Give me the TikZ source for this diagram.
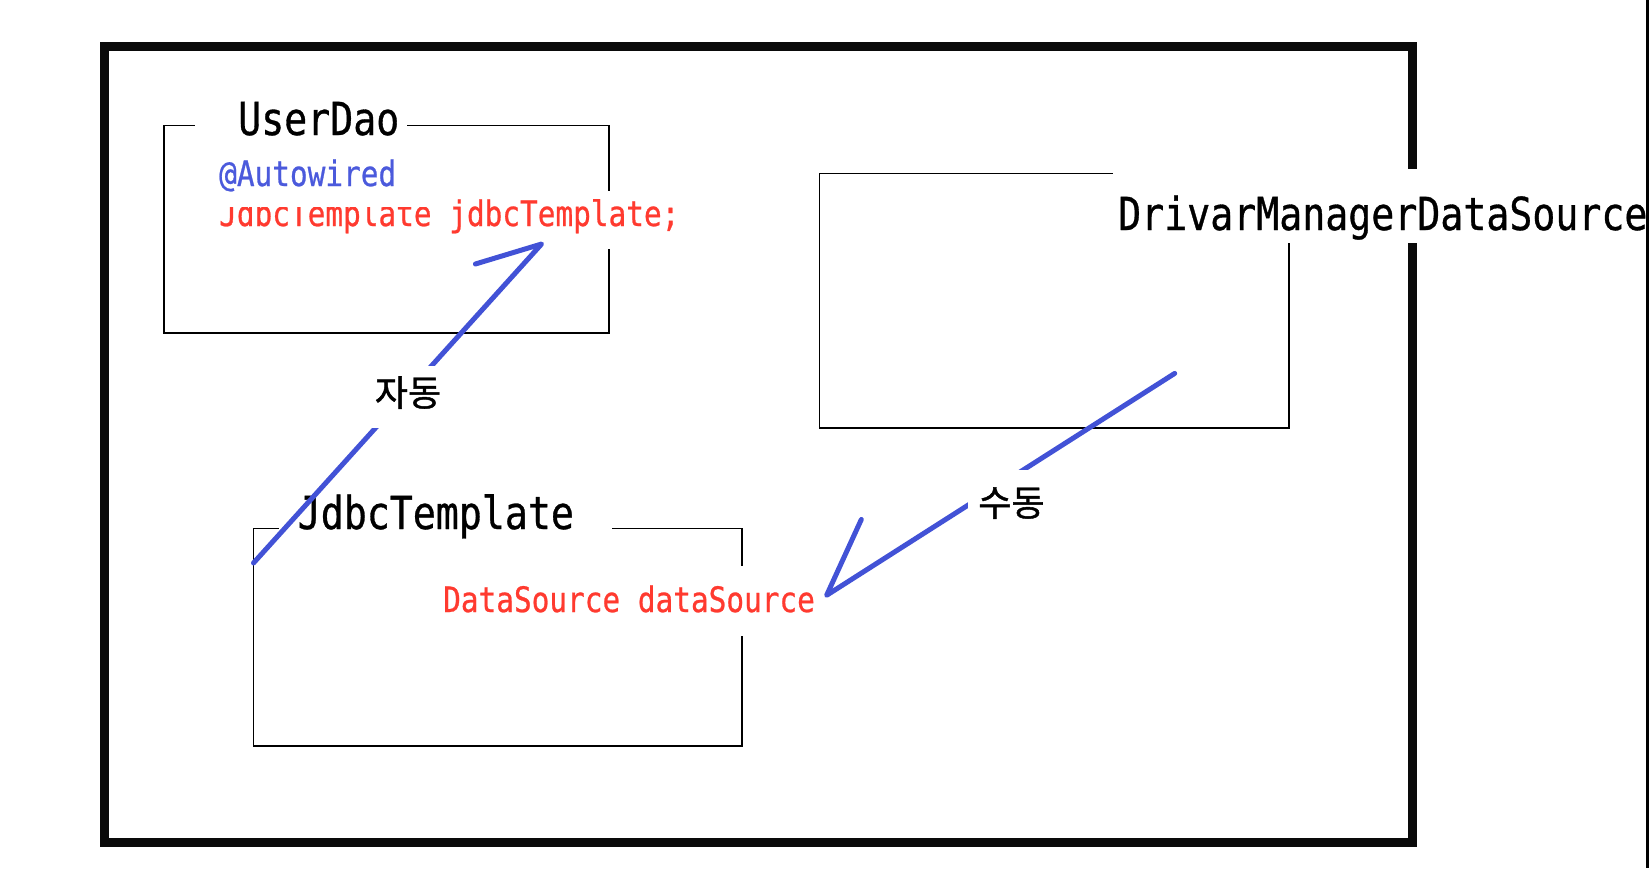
\documentclass[tikz,border=0pt]{standalone}
\usepackage{fontspec}
\newfontfamily\codefont[FakeStretch=0.84,FakeBold=0.7]{DejaVu Sans Mono}
\newfontfamily\krfont[FakeBold=1.2]{Noto Sans CJK KR}
\definecolor{codered}{RGB}{255,58,47}
\definecolor{autoblue}{RGB}{75,90,220}
\definecolor{penblue}{RGB}{66,82,214}
\tikzset{
  box/.style={draw=black, line width=1.8pt},
  frame/.style={draw=black!96, line width=9pt},
  bigtext/.style={font=\codefont\fontsize{45.5}{50}\selectfont, text=black, fill=white, inner sep=0pt},
  codetext/.style={font=\codefont\fontsize{35}{40}\selectfont, inner sep=0pt},
  krlabel/.style={font=\krfont\fontsize{36}{40}\selectfont, fill=white, inner xsep=10pt, inner ysep=0pt, anchor=base},
  pen/.style={draw=penblue, line width=5pt, line cap=round, line join=round},
}
\begin{document}
\begin{tikzpicture}[x=1pt,y=-1pt]
\useasboundingbox (0,0) rectangle (1649,868);
% outer frame
\draw[frame] (104,46.5) rectangle (1412,842);
% boxes
\draw[box] (164,125.5) rectangle (609,333);
\draw[box] (819.5,173.5) rectangle (1289,428);
\draw[box] (253.5,528.5) rectangle (742,746);
% texts
\node[bigtext, anchor=base west] (userdao) at (195,135) {\hspace*{43pt}UserDao\hspace*{8pt}};
\node[codetext, text=codered, fill=white, anchor=base west] (jdbcfield) at (219,226) {\rule[-23pt]{0pt}{58pt}JdbcTemplate jdbcTemplate;};
\fill[white] (219,190) rectangle (434,207);
\node[codetext, text=autoblue, anchor=base west] (autowired) at (219,186) {@Autowired};
\node[bigtext, anchor=base west] (dmds) at (1113,230) {\rule[-13pt]{0pt}{74pt}\hspace*{5pt}DrivarManagerDataSource\hspace*{4pt}};
\node[bigtext, anchor=base west] (jdbclbl) at (279,529) {\hspace*{18.6pt}JdbcTemplate\hspace*{38pt}};
\node[codetext, text=codered, fill=white, anchor=base west] (dsfield) at (443,612) {\rule[-24pt]{0pt}{70pt}DataSource dataSource};
% right edge bar
\fill[black] (1646,0) rectangle (1649,868);
% arrows
\coordinate (a1s) at (253.5,563);
\coordinate (a1t) at (541.6,244);
\coordinate (a1b) at (475.4,264);
\draw[pen] (a1s) -- (a1t) -- (a1b);
\coordinate (a2s) at (1174.7,373.4);
\coordinate (a2t) at (826.6,595.3);
\coordinate (a2b) at (861.3,519.5);
\draw[pen] (a2s) -- (a2t) -- (a2b);
% labels
\node[krlabel] (auto) at (408,406) {\rule[-22pt]{0pt}{62pt}자동};
\node[krlabel] (manual) at (1011.5,516) {\rule[-20pt]{0pt}{66pt}수동};
\end{tikzpicture}
\end{document}
